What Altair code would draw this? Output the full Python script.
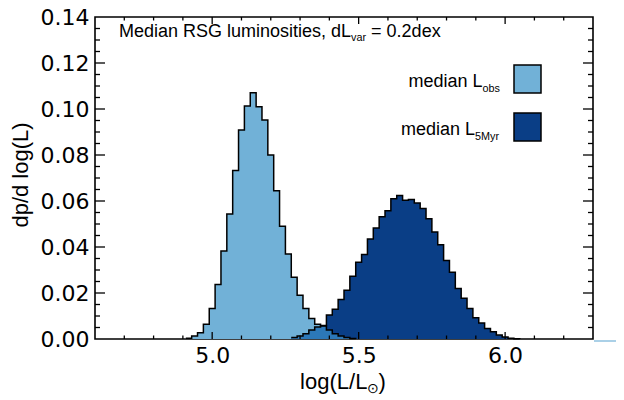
import altair as alt
import numpy as np
import pandas as pd

# ---------------- data ----------------
BIN_START = 4.91      # left edge of first light bin
BIN_WIDTH = 0.02
LIGHT_FIRST = 0       # bin index of first light value
DARK_FIRST = 18       # bin index of first dark value

light_vals = [0.0003, 0.0013, 0.0027, 0.0064, 0.0133, 0.0237, 0.0383, 0.0543,
              0.0733, 0.0909, 0.1013, 0.1071, 0.1010, 0.0952, 0.0800, 0.0645,
              0.0490, 0.0370, 0.0268, 0.0190, 0.0133, 0.0089, 0.0064, 0.0056,
              0.0039, 0.0023, 0.0013, 0.0006, 0.0002]

dark_vals = [0.0006, 0.0013, 0.0023, 0.0039, 0.0052, 0.0059, 0.0104, 0.0129,
             0.0172, 0.0212, 0.0273, 0.0334, 0.0367, 0.0435, 0.0483, 0.0531,
             0.0558, 0.0610, 0.0624, 0.0603, 0.0606, 0.0591, 0.0567, 0.0523,
             0.0465, 0.0410, 0.0341, 0.0290, 0.0220, 0.0177, 0.0133, 0.0092,
             0.0070, 0.0046, 0.0032, 0.0017, 0.0009, 0.0003, 0.0001]

x_labels = [5.0, 5.5, 6.0]
y_labels = [0.00, 0.02, 0.04, 0.06, 0.08, 0.10, 0.12, 0.14]
x_minor = [4.7, 4.8, 4.9, 5.1, 5.2, 5.3, 5.4, 5.6, 5.7, 5.8, 5.9, 6.1, 6.2]
y_major = [0.02, 0.04, 0.06, 0.08, 0.10, 0.12]
y_minor = [0.005, 0.010, 0.015, 0.025, 0.030, 0.035, 0.045, 0.050, 0.055,
           0.065, 0.070, 0.075, 0.085, 0.090, 0.095, 0.105, 0.110, 0.115,
           0.125, 0.130, 0.135]

LIGHT = "#71b1d7"
DARK = "#0a3e86"
MID = "#2c78b8"
FONT = "Liberation Sans"
TICKFONT = "DejaVu Sans"

W, H = 498, 322

def hist_df(first, vals):
    n = len(vals)
    edges = BIN_START + BIN_WIDTH * (first + np.arange(n + 1))
    return pd.DataFrame({"x": np.round(edges, 4), "y": list(vals) + [0.0]})

light_df = hist_df(LIGHT_FIRST, light_vals)
dark_df = hist_df(DARK_FIRST, dark_vals)
# overlap region = min of the two histograms on common bins
ov = []
for i, v in enumerate(dark_vals):
    k = DARK_FIRST + i - LIGHT_FIRST
    if 0 <= k < len(light_vals):
        ov.append(min(v, light_vals[k]))
over_df = hist_df(DARK_FIRST, ov)

xs = alt.Scale(domain=[4.6, 6.3], nice=False, zero=False)
ys = alt.Scale(domain=[0, 0.14], nice=False, zero=False)

xaxis = alt.Axis(values=x_labels, format=".1f", ticks=False, domain=False, grid=False,
                 labelFontSize=22, labelFont=TICKFONT, labelColor="black", labelPadding=6,
                 title=None)
yaxis = alt.Axis(values=y_labels, format=".2f", ticks=False, domain=False, grid=False,
                 labelFontSize=22, labelFont=TICKFONT, labelColor="black", labelPadding=6,
                 title=None)

X = lambda f: alt.X(f, scale=xs, axis=xaxis)
Y = lambda f: alt.Y(f, scale=ys, axis=yaxis)

def area(df, color):
    return alt.Chart(df).mark_area(interpolate="step-after", color=color, opacity=1).encode(
        x=X("x:Q"), y=Y("y:Q"))

def outline(df):
    return alt.Chart(df).mark_line(interpolate="step-after", color="black", strokeWidth=1.5).encode(
        x=X("x:Q"), y=Y("y:Q"))

layers = [area(light_df, LIGHT), area(dark_df, DARK), area(over_df, MID),
          outline(light_df), outline(dark_df)]

# inward ticks on all four sides
def xticks(vals, length):
    df = pd.DataFrame({"v": vals})
    b = alt.Chart(df).mark_rule(color="black", strokeWidth=1.3)
    return [b.encode(x=X("v:Q"), y=alt.value(H), y2=alt.value(H - length)),
            b.encode(x=X("v:Q"), y=alt.value(0), y2=alt.value(length))]

def yticks(vals, length):
    df = pd.DataFrame({"v": vals})
    b = alt.Chart(df).mark_rule(color="black", strokeWidth=1.3)
    return [b.encode(y=Y("v:Q"), x=alt.value(0), x2=alt.value(length)),
            b.encode(y=Y("v:Q"), x=alt.value(W), x2=alt.value(W - length))]

layers += xticks(x_labels, 7) + xticks(x_minor, 3.5) + yticks(y_major, 10) + yticks(y_minor, 5)

# ---------------- text helpers ----------------
AW = {' ': 278, 'M': 833, 'e': 556, 'd': 556, 'i': 222, 'a': 556, 'n': 556, 'R': 722,
      'S': 667, 'G': 778, 'l': 222, 'u': 556, 'm': 833, 'o': 556, 's': 500, 't': 278,
      ',': 278, 'L': 556, '=': 584, '0': 556, '.': 278, '2': 556, 'x': 500, 'v': 500,
      'r': 333, 'b': 556, '5': 556, 'y': 500, '(': 333, ')': 333, '/': 278, 'g': 556,
      'p': 556, '\u2299': 800}

def tw(s, size):
    return sum(AW.get(c, 556) for c in s) * size / 1000.0

def txt(s, x, y, size, align="left", angle=0):
    return alt.Chart(pd.DataFrame({"t": [s]})).mark_text(
        font=FONT, fontSize=size, align=align, baseline="alphabetic", color="black",
        angle=angle).encode(x=alt.value(x), y=alt.value(y), text="t:N")

# annotation title
t_size, s_size = 18, 10.8
p1, p2, p3 = "Median RSG luminosities, dL", "var", "= 0.2dex"
x0, yb = 24, 20
x2 = x0 + tw(p1, t_size)
x3 = x2 + tw(p2, s_size) + tw(" ", t_size)
layers += [txt(p1, x0, yb, t_size),
           txt(p2, x2, yb + 4, s_size),
           txt(p3, x3, yb, t_size)]

# legend
leg_size, leg_sub = 18, 10.8
leg_main = "median L"
leg_subs = ["obs", "5Myr"]
leg_colors = [LIGHT, DARK]
leg_right = [500 - 95, 499 - 95]
leg_base = [70, 118]
for sub, col, r, b in zip(leg_subs, leg_colors, leg_right, leg_base):
    sx = r - tw(sub, leg_sub)
    layers.append(txt(leg_main, sx, b, leg_size, align="right"))
    layers.append(txt(sub, sx, b + 5, leg_sub))
    layers.append(alt.Chart(pd.DataFrame({"c": [col]})).mark_rect(
        stroke="black", strokeWidth=1.5, color=col).encode(
        x=alt.value(419), x2=alt.value(446), y=alt.value(b - 22), y2=alt.value(b + 6)))

# axis titles
layers.append(txt("dp/d log(L)", -67, 158, 22, align="center", angle=270))
xt_size, xt_sub = 22, 14
a1, a2, a3 = "log(L/L", "\u2299", ")"
tot = tw(a1, xt_size) + tw(a2, xt_sub) + tw(a3, xt_size)
xs0 = 248 - tot / 2
layers += [txt(a1, xs0, 372, xt_size),
           txt(a2, xs0 + tw(a1, xt_size), 376, xt_sub),
           txt(a3, xs0 + tw(a1, xt_size) + tw(a2, xt_sub), 372, xt_size)]

# stray light-blue baseline segment right of the frame
layers.append(alt.Chart(pd.DataFrame({"c": [1]})).mark_rule(color=LIGHT, strokeWidth=1.2).encode(
    x=alt.value(W + 1), x2=alt.value(W + 23), y=alt.value(H + 2)))

chart = alt.layer(*layers).properties(
    width=W, height=H,
    autosize=alt.AutoSizeParams(type="none"),
    padding={"left": 87, "top": 9, "right": 23, "bottom": 59},
).configure_view(stroke="black", strokeWidth=1.6)

chart.save("out.html", embed_options={"renderer": "svg", "actions": False})
